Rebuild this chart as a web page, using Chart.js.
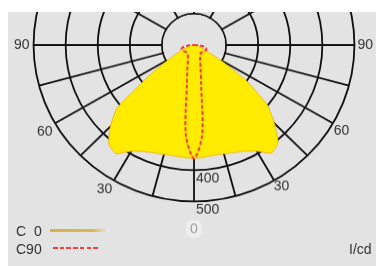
<!DOCTYPE html>
<html>
<head>
<meta charset="utf-8">
<script src="https://cdn.jsdelivr.net/npm/chart.js@4.4.1/dist/chart.umd.min.js"></script>
<style>
  html, body { margin: 0; padding: 0; background: #fff; }
  body { width: 376px; height: 266px; position: relative; overflow: hidden;
         font-family: "Liberation Sans", Arial, sans-serif; font-size: 14px; color: #333; }
  #frame { position: absolute; left: 8px; top: 12px; width: 368px; height: 254px;
           background: #e3e3e3; overflow: hidden; }
  #polar { position: absolute; left: -4px; top: -197px;
           transform: scaleY(0.975); transform-origin: 190px 230px; }
  .txt { position: absolute; line-height: 16px; white-space: pre; }
  #c0Line { position: absolute; left: 50px; top: 229px; width: 60px; height: 3px;
            background: linear-gradient(to right, #d6b24a 0%, #dab955 72%, rgba(245,236,250,0.9) 100%); }
  #c90Line { position: absolute; left: 53px; top: 246.5px; width: 47px; height: 2px;
             background: repeating-linear-gradient(to right, #ff3a3a 0 4.5px, transparent 4.5px 6.7px); }
</style>
</head>
<body>
<div id="frame">
  <canvas id="polar" width="380" height="460"></canvas>
</div>
<div class="txt" style="left:16px; top:223px;">C  0</div>
<div id="c0Line"></div>
<div class="txt" style="left:16px; top:241px;">C90</div>
<div id="c90Line"></div>
<div class="txt" style="left:349px; top:241px;">I/cd</div>

<script>
// gamma angles (deg from nadir) and intensities in cd
const gammaSteps = [0, 5, 10, 15, 20, 25, 30, 35, 40, 45, 50, 55, 60, 65, 70, 75, 80, 85, 90,
                    95, 100, 105, 110, 115, 120, 125, 130, 135, 140, 145, 150, 155, 160, 165, 170, 175, 180];
const c0Values   = [363, 360, 358, 360, 366, 375, 392, 422, 408, 355, 299, 200, 94, 38, 24, 16, 12, 9, 6,
                    0, 0, 0, 0, 0, 0, 0, 0, 0, 0, 0, 0, 0, 0, 0, 0, 0, 0];
const c180Values = [363, 361, 360, 362, 367, 376, 392, 424, 414, 369, 313, 172, 88, 48, 26, 16, 12, 9, 6,
                    0, 0, 0, 0, 0, 0, 0, 0, 0, 0, 0, 0, 0, 0, 0, 0, 0, 0];
const c90Values  = [363, 290, 128, 80, 56, 45, 38, 35, 33, 33, 34, 36, 38, 40, 41, 39, 32, 18, 0,
                    0, 0, 0, 0, 0, 0, 0, 0, 0, 0, 0, 0, 0, 0, 0, 0, 0, 0];
const angleTickLabels = ['0', '30', '60', '90'];
const ringTicks = [400, 500];

const STEP = 5;
const COUNT = 360 / STEP;

// index around the radar (clockwise from top) -> gamma
function gammaAt(i) {
    const a = i * STEP;
    return a <= 180 ? 180 - a : a - 180;
}

// build radar data: right half from one plane, left half from the other
function buildRing(rightVals, leftVals) {
    const out = [];
    for (let i = 0; i < COUNT; i++) {
        const a = i * STEP;
        const k = gammaSteps.indexOf(gammaAt(i));
        out.push(a <= 180 ? rightVals[k] : leftVals[k]);
    }
    return out;
}

const labels = [];
for (let i = 0; i < COUNT; i++) labels.push(String(gammaAt(i)));

// per-label padding to sit the angle labels where the original has them
const labelPadding = { 18: 3, 54: 4, 24: 1, 48: 3, 30: -1, 42: 3, 36: 21.3 };

const polarExtras = {
    id: 'polarExtras',
    beforeDatasetsDraw(chart) {
        // spokes stop at the 100 cd ring
        const s = chart.scales.r;
        const ctx = chart.ctx;
        ctx.save();
        ctx.beginPath();
        ctx.arc(s.xCenter, s.yCenter, s.getDistanceFromCenterForValue(100) - 0.9, 0, Math.PI * 2);
        ctx.fillStyle = '#e3e3e3';
        ctx.fill();
        ctx.restore();
    },
    afterDatasetsDraw(chart) {
        // intensity labels along the nadir axis
        const s = chart.scales.r;
        const ctx = chart.ctx;
        ctx.save();
        ctx.font = '14px "Liberation Sans", Arial, sans-serif';
        ctx.fillStyle = '#333';
        ctx.textAlign = 'left';
        ctx.textBaseline = 'middle';
        ringTicks.forEach(v => {
            ctx.fillText(String(v), s.xCenter + 2, s.yCenter + s.getDistanceFromCenterForValue(v) + 9);
        });
        ctx.restore();
    }
};

new Chart(document.getElementById('polar'), {
    type: 'radar',
    data: {
        labels: labels,
        datasets: [{
            label: 'C90',
            data: buildRing(c90Values, c90Values),
            borderColor: '#ff3636',
            borderWidth: 2,
            borderDash: [4, 2.2],
            fill: false,
            tension: 0.3,
            pointRadius: 0
        }, {
            label: 'C 0',
            data: buildRing(c0Values, c180Values),
            borderColor: 'rgba(235,165,0,0.7)',
            borderWidth: 1,
            backgroundColor: '#ffec00',
            fill: true,
            tension: 0.12,
            pointRadius: 0
        }]
    },
    options: {
        responsive: false,
        devicePixelRatio: 1,
        animation: false,
        layout: { padding: { left: 10, right: 10, top: 0, bottom: 0 } },
        plugins: {
            legend: { display: false },
            tooltip: { enabled: false }
        },
        scales: {
            r: {
                min: 0,
                max: 500,
                startAngle: 0,
                ticks: { display: false, stepSize: 100 },
                grid: { circular: true, color: '#0e0e0e', lineWidth: 1.8 },
                angleLines: {
                    color: '#0e0e0e',
                    lineWidth: (ctx) => {
                        const g = gammaAt(ctx.index);
                        if (g <= 90) return g % 15 === 0 ? 1.8 : 0;
                        return g % 30 === 0 ? 1.8 : 0;
                    }
                },
                pointLabels: {
                    display: true,
                    callback: (label) => angleTickLabels.includes(label) ? label : '',
                    font: { family: '"Liberation Sans", Arial, sans-serif', size: 14, lineHeight: 1 },
                    color: (ctx) => ctx.index === 36 ? '#9a9a9a' : '#333',
                    padding: (ctx) => labelPadding[ctx.index] !== undefined ? labelPadding[ctx.index] : 0,
                    backdropColor: (ctx) => ctx.index === 36 ? 'rgba(248,248,248,0.55)' : null,
                    backdropPadding: { left: 4, right: 4, top: 2, bottom: 2 },
                    borderRadius: 6
                }
            }
        }
    },
    plugins: [polarExtras]
});
</script>
</body>
</html>
